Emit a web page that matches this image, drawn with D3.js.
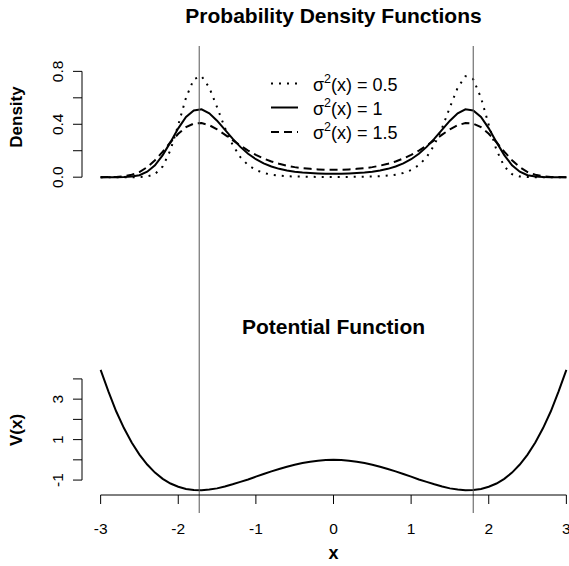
<!DOCTYPE html>
<html>
<head>
<meta charset="utf-8">
<script src="https://cdn.jsdelivr.net/npm/d3@7"></script>
<style>
body { margin: 0; background: #fff; }
svg { display: block; font-family: "Liberation Sans", Arial, sans-serif; }
</style>
</head>
<body>
<div id="chart"></div>
<script>
// grid of x values
const xs = [-3, -2.9, -2.8, -2.7, -2.6, -2.5, -2.4, -2.3, -2.2, -2.1, -2, -1.9, -1.8, -1.7, -1.6, -1.5, -1.4, -1.3, -1.2, -1.1, -1, -0.9, -0.8, -0.7, -0.6, -0.5, -0.4, -0.3, -0.2, -0.1,
            0, 0.1, 0.2, 0.3, 0.4, 0.5, 0.6, 0.7, 0.8, 0.9, 1, 1.1, 1.2, 1.3, 1.4, 1.5, 1.6, 1.7, 1.8, 1.9, 2, 2.1, 2.2, 2.3, 2.4, 2.5, 2.6, 2.7, 2.8, 2.9, 3];

// densities
const dens05 = [0, 0, 0, 0, 0.0001, 0.0007, 0.005, 0.023, 0.081, 0.205, 0.395, 0.601, 0.741, 0.764, 0.677, 0.529, 0.374, 0.245, 0.152, 0.091, 0.054, 0.032, 0.019, 0.012, 0.007, 0.005, 0.004, 0.003, 0.002, 0.002,
                0.002, 0.002, 0.002, 0.003, 0.004, 0.005, 0.007, 0.012, 0.019, 0.032, 0.054, 0.091, 0.152, 0.245, 0.374, 0.529, 0.677, 0.764, 0.741, 0.601, 0.395, 0.205, 0.081, 0.023, 0.005, 0.0007, 0.0001, 0, 0, 0, 0];
const dens1 = [0, 0, 0.0002, 0.001, 0.005, 0.015, 0.041, 0.090, 0.167, 0.265, 0.369, 0.455, 0.505, 0.513, 0.483, 0.427, 0.359, 0.291, 0.229, 0.177, 0.136, 0.104, 0.081, 0.063, 0.051, 0.041, 0.035, 0.031, 0.028, 0.026,
               0.026, 0.026, 0.028, 0.031, 0.035, 0.041, 0.051, 0.063, 0.081, 0.104, 0.136, 0.177, 0.229, 0.291, 0.359, 0.427, 0.483, 0.513, 0.505, 0.455, 0.369, 0.265, 0.167, 0.090, 0.041, 0.015, 0.005, 0.001, 0.0002, 0, 0];
const dens15 = [0.0001, 0.0006, 0.002, 0.007, 0.018, 0.039, 0.076, 0.128, 0.193, 0.264, 0.328, 0.378, 0.405, 0.409, 0.393, 0.362, 0.322, 0.280, 0.239, 0.201, 0.169, 0.141, 0.119, 0.101, 0.087, 0.076, 0.068, 0.063, 0.059, 0.056,
                0.056, 0.056, 0.059, 0.063, 0.068, 0.076, 0.087, 0.101, 0.119, 0.141, 0.169, 0.201, 0.239, 0.280, 0.322, 0.362, 0.393, 0.409, 0.405, 0.378, 0.328, 0.264, 0.193, 0.128, 0.076, 0.039, 0.018, 0.007, 0.002, 0.0006, 0.0001];

// potential V(x)
const potential = [4.45, 3.38, 2.40, 1.57, 0.86, 0.26, -0.23, -0.63, -0.94, -1.17, -1.33, -1.44, -1.49, -1.50, -1.47, -1.41, -1.32, -1.21, -1.09, -0.97, -0.83, -0.70, -0.57, -0.45, -0.34, -0.24, -0.16, -0.09, -0.04, -0.01,
                   0, -0.01, -0.04, -0.09, -0.16, -0.24, -0.34, -0.45, -0.57, -0.70, -0.83, -0.97, -1.09, -1.21, -1.32, -1.41, -1.47, -1.50, -1.49, -1.44, -1.33, -1.17, -0.94, -0.63, -0.23, 0.26, 0.86, 1.57, 2.40, 3.38, 4.45];

// positions of the two minima (vertical lines)
const minima = [-1.73, 1.8];

const sigmaLabels = ["0.5", "1", "1.5"];
const densTicks = [0, 0.2, 0.4, 0.6, 0.8];
const densTickLabels = ["0.0", "", "0.4", "", "0.8"];
const vTicks = [-1, 0, 1, 2, 3, 4];
const vTickLabels = ["-1", "", "1", "", "3", ""];
const xTicks = [-3, -2, -1, 0, 1, 2, 3];

//svg size
const c_width = 569;
const c_height = 566;

//plot regions
const left = 82, right = 585;
const topPanel = {top: 52, bottom: 182};
const botPanel = {top: 365, bottom: 495};

const svg = d3.select("#chart")
              .append("svg")
              .attr("width", c_width)
              .attr("height", c_height);

//R style 4% padding
function pad(ext) {
  const d = (ext[1] - ext[0]) * 0.04;
  return [ext[0] - d, ext[1] + d];
}

const xScale = d3.scaleLinear()
                 .domain(pad(d3.extent(xs)))
                 .range([left, right]);

const yDens = d3.scaleLinear()
                .domain(pad([0, 0.91]))
                .range([topPanel.bottom, topPanel.top]);

const yPot = d3.scaleLinear()
               .domain(pad(d3.extent(potential)))
               .range([botPanel.bottom, botPanel.top]);

const series = [
  {values: dens05, dash: "2,6"},
  {values: dens1, dash: null},
  {values: dens15, dash: "8,5"}
];

//density curves
series.forEach(s => {
  const line = d3.line()
                 .x((d, i) => xScale(xs[i]))
                 .y(d => yDens(d));
  svg.append("path")
     .datum(s.values)
     .attr("d", line)
     .attr("fill", "none")
     .attr("stroke", "black")
     .attr("stroke-width", 2)
     .attr("stroke-dasharray", s.dash);
});

//potential curve
svg.append("path")
   .datum(potential)
   .attr("d", d3.line().x((d, i) => xScale(xs[i])).y(d => yPot(d)))
   .attr("fill", "none")
   .attr("stroke", "black")
   .attr("stroke-width", 2);

//vertical lines at the minima, across both panels
svg.selectAll(".vline")
   .data(minima)
   .enter()
   .append("line")
   .attr("class", "vline")
   .attr("x1", d => xScale(d))
   .attr("x2", d => xScale(d))
   .attr("y1", 46)
   .attr("y2", 513)
   .attr("stroke", "#555")
   .attr("stroke-width", 1);

//axes
function yAxis(scale, ticks, labels) {
  const g = svg.append("g").attr("transform", "translate(" + left + ",0)");
  g.append("line")
   .attr("x1", 0).attr("x2", 0)
   .attr("y1", scale(ticks[0])).attr("y2", scale(ticks[ticks.length - 1]))
   .attr("stroke", "black");
  ticks.forEach((t, i) => {
    g.append("line")
     .attr("x1", 0).attr("x2", -9)
     .attr("y1", scale(t)).attr("y2", scale(t))
     .attr("stroke", "black");
    if (labels[i] !== "") {
      g.append("text")
       .attr("transform", "translate(-19," + scale(t) + ") rotate(-90)")
       .attr("text-anchor", "middle")
       .attr("font-size", 15.5)
       .text(labels[i]);
    }
  });
}
yAxis(yDens, densTicks, densTickLabels);
yAxis(yPot, vTicks, vTickLabels);

const xg = svg.append("g").attr("transform", "translate(0," + botPanel.bottom + ")");
xg.append("line")
  .attr("x1", xScale(xTicks[0])).attr("x2", xScale(xTicks[xTicks.length - 1]))
  .attr("stroke", "black");
xTicks.forEach(t => {
  xg.append("line")
    .attr("x1", xScale(t)).attr("x2", xScale(t))
    .attr("y1", 0).attr("y2", 9)
    .attr("stroke", "black");
  xg.append("text")
    .attr("x", xScale(t))
    .attr("y", 39)
    .attr("text-anchor", "middle")
    .attr("font-size", 15.5)
    .text(t);
});

//titles
const mid = (left + right) / 2;
svg.append("text")
   .attr("x", mid).attr("y", 23)
   .attr("text-anchor", "middle")
   .attr("font-size", 21).attr("font-weight", "bold")
   .text("Probability Density Functions");
svg.append("text")
   .attr("x", mid).attr("y", 334)
   .attr("text-anchor", "middle")
   .attr("font-size", 21).attr("font-weight", "bold")
   .text("Potential Function");

//axis labels
svg.append("text")
   .attr("transform", "translate(22," + (topPanel.top + topPanel.bottom) / 2 + ") rotate(-90)")
   .attr("text-anchor", "middle")
   .attr("font-size", 17).attr("font-weight", "bold")
   .text("Density");
svg.append("text")
   .attr("transform", "translate(22," + (botPanel.top + botPanel.bottom) / 2 + ") rotate(-90)")
   .attr("text-anchor", "middle")
   .attr("font-size", 17).attr("font-weight", "bold")
   .text("V(x)");
svg.append("text")
   .attr("x", mid).attr("y", 559)
   .attr("text-anchor", "middle")
   .attr("font-size", 18).attr("font-weight", "bold")
   .text("x");

//legend
const legendRows = [83.5, 107.5, 132];
series.forEach((s, i) => {
  svg.append("line")
     .attr("x1", 271).attr("x2", 298)
     .attr("y1", legendRows[i]).attr("y2", legendRows[i])
     .attr("stroke", "black")
     .attr("stroke-width", 2)
     .attr("stroke-dasharray", s.dash);
  const t = svg.append("text")
               .attr("x", 313)
               .attr("y", legendRows[i] + 7)
               .attr("font-size", 18);
  t.append("tspan").text("\u03c3");
  t.append("tspan").attr("dy", -8).attr("font-size", 12.5).text("2");
  t.append("tspan").attr("dy", 8).text("(x) = " + sigmaLabels[i]);
});
</script>
</body>
</html>
